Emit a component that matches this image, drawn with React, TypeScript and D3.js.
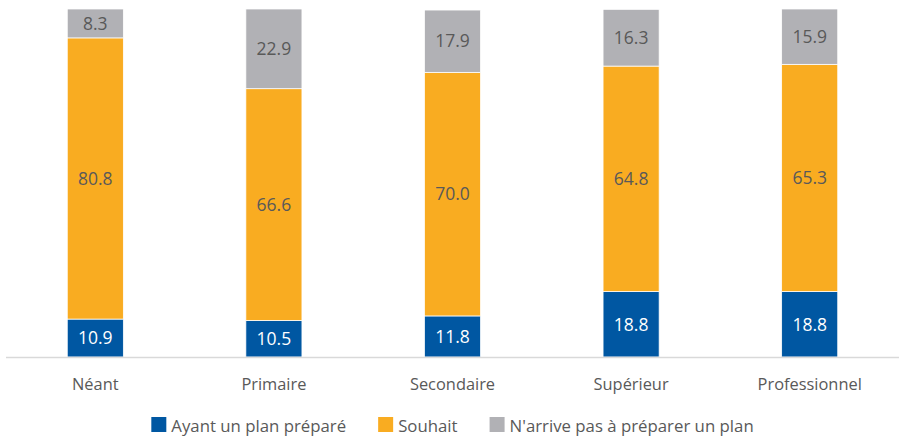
import React, { useEffect, useRef } from "react";
import * as d3 from "d3";

const categories = ["Néant", "Primaire", "Secondaire", "Supérieur", "Professionnel"];
const seriesNames = ["Ayant un plan préparé", "Souhait", "N'arrive pas à préparer un plan"];
const plan = [10.9, 10.5, 11.8, 18.8, 18.8];
const souhait = [80.8, 66.6, 70.0, 64.8, 65.3];
const narrive = [8.3, 22.9, 17.9, 16.3, 15.9];
const colors = ["#0057A2", "#F9AC21", "#B1B1B5"];
const labelColors = ["#ffffff", "#595959", "#595959"];

const FONT = "'Open Sans', sans-serif";

export default function App() {
  const ref = useRef<SVGSVGElement>(null);
  useEffect(() => {
    const node = ref.current;
    if (!node) return;
    const w = 899, h = 436, m = { t: 9, r: 0, b: 79, l: 6 };
    const svg = d3.select(node);
    svg.selectAll("*").remove();

    const rows = categories.map((c, i) => ({ cat: c, v0: plan[i], v1: souhait[i], v2: narrive[i] }));
    const stack = d3.stack<any>().keys(["v0", "v1", "v2"])(rows);

    const x = d3.scaleBand().domain(categories).range([m.l, w - m.r]).paddingInner(0.686).paddingOuter(0.343);
    const y = d3.scaleLinear().domain([0, 100]).range([h - m.b, m.t]);

    const g = svg.append("g");
    stack.forEach((layer, k) => {
      const lg = g.append("g");
      lg.selectAll("rect").data(layer).enter().append("rect")
        .attr("x", (d: any) => x(d.data.cat)!)
        .attr("y", (d: any) => y(d[1]))
        .attr("width", x.bandwidth())
        .attr("height", (d: any) => y(d[0]) - y(d[1]))
        .attr("fill", colors[k])
        .attr("stroke", "#ffffff")
        .attr("stroke-width", 0.75);
      lg.selectAll("text").data(layer).enter().append("text")
        .attr("x", (d: any) => x(d.data.cat)! + x.bandwidth() / 2)
        .attr("y", (d: any) => (y(d[0]) + y(d[1])) / 2)
        .attr("dy", "0.36em")
        .attr("text-anchor", "middle")
        .attr("font-family", FONT)
        .attr("font-size", 17.5)
        .attr("fill", labelColors[k])
        .text((d: any) => (d[1] - d[0]).toFixed(1));
    });

    // baseline axis
    g.append("line")
      .attr("x1", m.l).attr("x2", w - m.r)
      .attr("y1", y(0) + 0.5).attr("y2", y(0) + 0.5)
      .attr("stroke", "#D9D9D9").attr("stroke-width", 1.5);

    g.selectAll(".cat").data(categories).enter().append("text")
      .attr("x", (d) => x(d)! + x.bandwidth() / 2)
      .attr("y", 390)
      .attr("text-anchor", "middle")
      .attr("font-family", FONT)
      .attr("font-size", 16.4)
      .attr("fill", "#595959")
      .text((d) => d);

    // legend, laid out from measured text widths and centred
    const leg = svg.append("g");
    const sq = 15, gapSq = 5, gapItem = 32;
    const items = seriesNames.map((s, i) => {
      const ig = leg.append("g");
      ig.append("rect").attr("width", sq).attr("height", sq).attr("y", 417).attr("fill", colors[i]);
      const t = ig.append("text").attr("x", sq + gapSq).attr("y", 432)
        .attr("font-family", FONT).attr("font-size", 16.8).attr("fill", "#595959").text(s);
      const tw = (t.node() as SVGTextElement).getComputedTextLength();
      return { ig, width: sq + gapSq + tw };
    });
    const total = d3.sum(items, (d) => d.width) + gapItem * (items.length - 1);
    let cx = (m.l + w - m.r) / 2 - total / 2;
    items.forEach((it) => {
      it.ig.attr("transform", `translate(${cx},0)`);
      cx += it.width + gapItem;
    });
  }, []);
  return (
    <svg ref={ref} width={899} height={436} viewBox="0 0 899 436"
      style={{ display: "block", position: "absolute", left: 0, top: 0, background: "#fff" }} />
  );
}
